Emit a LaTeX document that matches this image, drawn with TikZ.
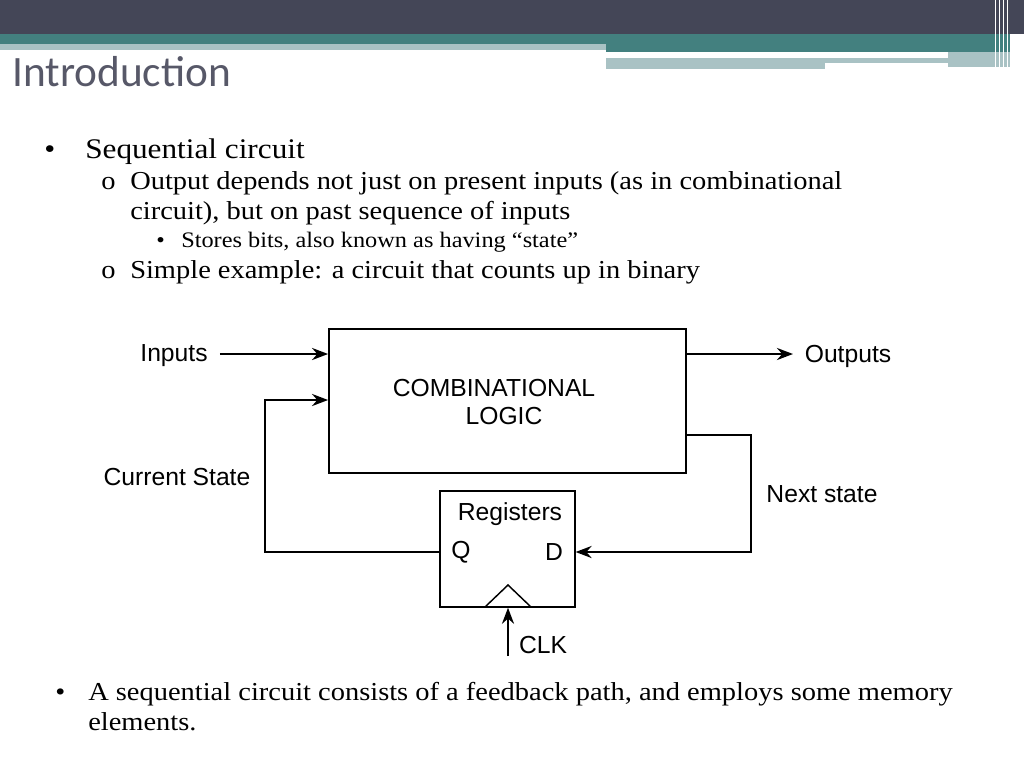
\documentclass[tikz,border=0pt]{standalone}
\usepackage{fontspec}
\setmainfont{Liberation Serif}[FakeStretch=1.1]
\newfontfamily\diagfont{Liberation Sans}
\newfontfamily\titlefont{Carlito}
\usetikzlibrary{arrows.meta,
                positioning, % For easy node-relative placements
               }
\definecolor{headdark}{HTML}{444657}
\definecolor{headteal}{HTML}{43807F}
\definecolor{headlight}{HTML}{A9C2C4}
\tikzstyle{wire} = [line width=2pt, -{Stealth[length=12pt,width=9pt]}]
\tikzstyle{block} = [rectangle, draw=black, line width=1.1pt]
\tikzstyle{lbl} = [inner sep=0pt, font=\diagfont\fontsize{18.5}{22}\selectfont]
\tikzstyle{body} = [inner sep=0pt, anchor=base west, font=\fontsize{19.4}{23}\selectfont]

\begin{document}
\begin{tikzpicture}[x=0.75pt, y=-0.75pt]
  \useasboundingbox (0,0) rectangle (1024,768);
  % header bars
  \fill [headdark] (0,0) rectangle (1024,34);
  \fill [headteal] (0,34) rectangle (1010,44);
  \fill [headlight] (0,44) rectangle (606,50);
  \fill [headteal] (606,44) rectangle (1010,52);
  \fill [headlight] (606,58) rectangle (948,63);
  \fill [headlight] (606,63) rectangle (825,69);
  \fill [headlight] (948,52) rectangle (1010,67);
  \foreach \x in {995,999,1003,1007} \fill [white] (\x,0) rectangle +(1,68);
  \node (title) [inner sep=0pt, anchor=base west, text=headdark!90,
    font=\titlefont\fontsize{32.5}{36}\selectfont] at (12,86) {Introduction};

  % bullet text
  \node (b1) [body, font=\fontsize{21.3}{25}\selectfont] at (44,158) {•};
  \node (t1) [body, font=\fontsize{21.3}{25}\selectfont] at (85,158) {Sequential circuit};
  \node (o1) [body] at (101,189) {o};
  \node (t2) [body] at (130,189) {Output depends not just on present inputs (as in combinational};
  \node (t3) [body] at (130,219) {circuit), but on past sequence of inputs};
  \node (b2) [body, font=\fontsize{16.6}{19}\selectfont] at (156,247) {•};
  \node (t4) [body, font=\fontsize{16.6}{19}\selectfont] at (181,247) {Stores bits, also known as having “state”};
  \node (o2) [body] at (101,278) {o};
  \node (t5) [body] at (130,278) {Simple example: a circuit that counts up in binary};
  \node (b3) [body] at (55,700) {•};
  \node (t6) [body] at (88,700) {A sequential circuit consists of a feedback path, and employs some memory};
  \node (t7) [body] at (88,730) {elements.};

  % blocks
  \node (logic) [block, minimum width=268pt, minimum height=108pt] at (507.5,401) {};
  \node (regs) [block, minimum width=101pt, minimum height=87pt] at (507.5,549) {};
  \node (comb1) [lbl] at (494,388) {COMBINATIONAL};
  \node (comb2) [lbl] at (504,416) {LOGIC};
  \node (reglbl) [lbl] at (510,514) {Registers};
  \node (q) [lbl] at (461,552) {Q};
  \node (d) [lbl] at (554,552) {D};
  \draw [line width=1.1pt] (485,607) -- (508,585) -- (531,607);

  % labels
  \node (inputs) [lbl] at (174,356) {Inputs};
  \node (outputs) [lbl] at (848,356) {Outputs};
  \node (cur) [lbl] at (177,477) {Current State};
  \node (next) [lbl] at (822,494) {Next state};
  \node (clk) [lbl] at (543,645) {CLK};

  % connectors
  \coordinate (inR) at (logic.west |- 0,354);
  \coordinate (fbR) at (logic.west |- 0,400);
  \coordinate (outL) at (logic.east |- 0,354);
  \coordinate (outE) at (793,354);
  \coordinate (nsL) at (logic.east |- 0,435);
  \coordinate (qL) at (regs.west |- 0,552);
  \coordinate (dR) at (regs.east |- 0,552);
  \coordinate (clkB) at (508,656);
  \coordinate (clkT) at (regs.south -| clkB);
  \draw [wire] (inputs.east) ++(12,-2) -- (inR);
  \draw [wire] (qL) -- (265,552) -- (265,400) -- (fbR);
  \draw [wire] (outL) -- (outE);
  \draw [wire] (nsL) -- (751,435) -- (751,552) -- (dR);
  \draw [wire] (clkB) -- (clkT);
\end{tikzpicture}
\end{document}
